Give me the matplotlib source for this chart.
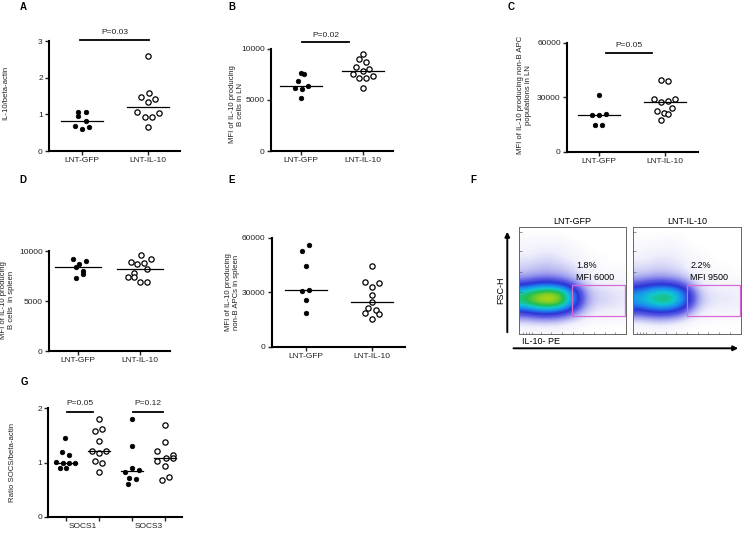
import numpy as np
import matplotlib.pyplot as plt
from matplotlib.colors import LinearSegmentedColormap
from matplotlib.patches import Rectangle, FancyArrowPatch

plt.rcParams['font.family'] = ['Liberation Sans', 'DejaVu Sans']

W, H = 746, 533

# ---------------- data ----------------
lnt_groups = ['LNT-GFP', 'LNT-IL-10']
socs_groups = ['SOCS1', 'SOCS3']

# A  IL-10/beta-actin
a_gfp = [1.07, 1.07, 0.95, 0.83, 0.68, 0.61, 0.66]
a_il10 = [2.59, 1.48, 1.59, 1.43, 1.34, 1.06, 0.94, 0.92, 1.04, 0.66]
# B  MFI IL-10+ B cells in LN
b_gfp = [7680, 7550, 6890, 6400, 6150, 6050, 5170]
b_il10 = [9510, 9050, 8700, 8210, 8040, 7870, 7520, 7190, 7190, 7350, 6210]
# C  MFI IL-10+ non-B APC in LN
c_gfp = [31000, 20360, 20360, 20750, 14860, 14860]
c_il10 = [39240, 38690, 29000, 27130, 27680, 29170, 22180, 21300, 20750, 23830, 17230]
# D  MFI IL-10+ B cells in spleen
d_gfp = [9260, 9000, 8730, 8400, 8050, 7720, 7320]
d_il10 = [9660, 9200, 8930, 8730, 8860, 8200, 7860, 7390, 6920, 6920, 7390]
# E  MFI IL-10+ non-B APCs in spleen
e_gfp = [56000, 52680, 44730, 30760, 31310, 25620, 18780]
e_il10 = [44730, 35890, 35000, 33130, 28550, 24520, 21200, 20430, 18610, 17890, 15300]
# G  SOCS/beta-actin
g_socs1_gfp = [1.46, 1.20, 1.13, 1.01, 0.99, 0.99, 1.00, 0.89, 0.90]
g_socs1_il10 = [1.80, 1.59, 1.61, 1.40, 1.21, 1.18, 1.21, 1.03, 1.00, 0.83]
g_socs3_gfp = [1.80, 1.31, 0.89, 0.86, 0.83, 0.71, 0.69, 0.60]
g_socs3_il10 = [1.69, 1.37, 1.22, 1.13, 1.03, 1.08, 1.08, 0.94, 0.68, 0.73]

# F  flow plots: rough event density (rows top->bottom, cols left->right)
f_gfp_density = [
    [.00, .00, .00, .00, .00, .00, .00, .00, .00, .00, .00, .00],
    [.02, .02, .02, .02, .02, .01, .00, .00, .00, .00, .00, .00],
    [.03, .03, .04, .04, .04, .03, .02, .01, .00, .00, .00, .00],
    [.05, .05, .06, .06, .05, .04, .03, .02, .01, .01, .00, .00],
    [.07, .08, .09, .09, .08, .07, .05, .03, .02, .01, .01, .01],
    [.11, .12, .13, .13, .12, .10, .07, .04, .03, .02, .02, .02],
    [.26, .30, .34, .34, .30, .24, .15, .08, .05, .04, .04, .04],
    [.68, .80, .88, .92, .84, .60, .34, .14, .08, .07, .06, .05],
    [.70, .82, .92, .94, .86, .62, .34, .14, .08, .07, .06, .05],
    [.28, .32, .36, .36, .32, .25, .15, .08, .05, .04, .04, .04],
    [.08, .09, .10, .10, .09, .07, .05, .03, .02, .02, .02, .01],
    [.02, .02, .02, .02, .02, .01, .01, .00, .00, .00, .00, .00],
]
f_il10_density = [
    [.00, .00, .00, .00, .00, .00, .00, .00, .00, .00, .00, .00],
    [.01, .01, .01, .02, .02, .01, .00, .00, .00, .00, .00, .00],
    [.02, .03, .03, .03, .03, .02, .01, .01, .00, .00, .00, .00],
    [.04, .04, .05, .05, .05, .04, .02, .01, .01, .00, .00, .00],
    [.06, .06, .07, .07, .06, .05, .03, .02, .01, .01, .01, .00],
    [.09, .10, .11, .11, .10, .08, .05, .03, .02, .02, .01, .01],
    [.22, .25, .28, .28, .25, .20, .11, .05, .04, .03, .03, .03],
    [.48, .56, .64, .68, .62, .46, .25, .09, .06, .05, .05, .04],
    [.50, .58, .66, .70, .62, .46, .25, .09, .06, .05, .05, .04],
    [.24, .27, .30, .30, .27, .21, .11, .05, .04, .03, .03, .03],
    [.06, .07, .08, .08, .07, .05, .03, .02, .01, .01, .01, .01],
    [.01, .01, .02, .02, .01, .01, .00, .00, .00, .00, .00, .00],
]

# horizontal spread of the dots (pixels from column centre)
a_dx = [[-4, 4, -4, 4, -7, 0, 7], [0, -7, 1, 7, 0, -11, -3, 4, 11, 0]]
b_dx = [[0, 3, -3, 7, -6, 1, 0], [0, -4, 3, -7, 6, 0, -10, -4, 3, 10, 0]]
c_dx = [[0, -7, 0, 7, -4, 3], [-4, 3, -11, -4, 3, 10, -8, -1, 3, 7, -4]]
d_dx = [[-5, 8, 1, -2, 5, 5, -2], [1, 11, -9, -3, 4, 7, -6, -6, 0, 7, -12]]
e_dx = [[3, -4, 0, -4, 3, 0, 0], [0, -7, 7, 0, 0, 0, -4, 4, -7, 7, 0]]
g_dx = [[-1, -4, 3, -10, -3, 3, 9, -6, 0], [0, -4, 3, 0, -7, 0, 7, -4, 3, 0],
        [0, 0, 0, 7, -7, -3, 4, -4], [0, 0, -8, 8, -8, 1, 8, 0, -3, 4]]

fig = plt.figure(figsize=(W / 100, H / 100), dpi=100)
fig.patch.set_facecolor('white')


def fx(x):
    return x / W


def fy(y):
    return 1 - y / H


def px_axes(x0, x1, ytop, ybot):
    return fig.add_axes([x0 / W, 1 - ybot / H, (x1 - x0) / W, (ybot - ytop) / H])


def column_scatter(ax, cols, offsets, cat_px, x0, x1, ymax, yticks, half=21):
    s = cat_px[1] - cat_px[0]
    ax.set_xlim((x0 - cat_px[0]) / s, (x1 - cat_px[0]) / s)
    ax.set_ylim(0, ymax)
    for i, (vals, dx) in enumerate(zip(cols, offsets)):
        x = i + np.asarray(dx) / s
        if i % 2 == 0:
            ax.plot(x, vals, 'o', ms=3.3, mfc='k', mec='k', mew=0.5, clip_on=False, zorder=3)
        else:
            ax.plot(x, vals, 'o', ms=3.8, mfc='white', mec='k', mew=0.9, clip_on=False, zorder=3)
        m = np.median(vals)
        ax.plot([i - half / s, i + half / s], [m, m], color='k', lw=0.9, zorder=4)
    ax.set_yticks(yticks)
    ax.set_xticks(range(len(cols)))
    for side in ['top', 'right']:
        ax.spines[side].set_visible(False)
    for side in ['left', 'bottom']:
        ax.spines[side].set_linewidth(1.5)
    ax.tick_params(direction='out', length=3, width=1, labelsize=6, pad=1.5, colors='#222')
    ax.patch.set_alpha(0)


def p_bar(ax, xa, xb, ybar, ytext, label):
    ax.plot([xa, xb], [ybar, ybar], color='k', lw=1.3, clip_on=False)
    ax.text((xa + xb) / 2, ytext, label, ha='center', va='center', fontsize=6, color='#222')


def ylab(x, y, text):
    fig.text(fx(x), fy(y), text, rotation=90, ha='center', va='center',
             fontsize=5.6, color='#222', multialignment='center')


def letter(x, y, text):
    fig.text(fx(x), fy(y), text, ha='center', va='center', fontsize=7, weight='bold')


# A
ax = px_axes(49, 180, 41, 151)
column_scatter(ax, [a_gfp, a_il10], a_dx, (82, 148), 49, 180, 3, [0, 1, 2, 3])
ax.set_xticklabels(lnt_groups)
p_bar(ax, -0.03, 1.02, 3.04, 3.22, 'P=0.03')
ylab(6, 93, 'IL-10/beta-actin')
letter(23, 7, 'A')

# B
ax = px_axes(271, 393, 49, 151)
column_scatter(ax, [b_gfp, b_il10], b_dx, (301, 363), 271, 393, 10000, [0, 5000, 10000])
ax.set_xticklabels(lnt_groups)
p_bar(ax, 0.02, 0.77, 10716, 11370, 'P=0.02')
ylab(236, 104, 'MFI of IL-10 producing\nB cells in LN')
letter(232, 7, 'B')

# C
ax = px_axes(567, 698, 42.7, 151.7)
column_scatter(ax, [c_gfp, c_il10], c_dx, (599, 665), 567, 698, 60000, [0, 30000, 60000])
ax.set_xticklabels(lnt_groups)
p_bar(ax, 0.10, 0.81, 54150, 58340, 'P=0.05')
ylab(524, 95, 'MFI of IL-10 producing non-B APC\npopulations in LN')
letter(511, 7, 'C')

# D
ax = px_axes(49, 170, 251.3, 351)
column_scatter(ax, [d_gfp, d_il10], d_dx, (78, 140), 49, 170, 10000, [0, 5000, 10000], half=23)
ax.set_xticklabels(lnt_groups)
ylab(8, 300, 'MFI of IL-10 producing\nB cells  in spleen')
letter(23, 180, 'D')

# E
ax = px_axes(272, 405, 238, 346.7)
column_scatter(ax, [e_gfp, e_il10], e_dx, (306, 372), 272, 405, 60000, [0, 30000, 60000])
ax.set_xticklabels(lnt_groups)
ylab(233, 292, 'MFI of IL-10 producing\nnon-B APCs in spleen')
letter(232, 180, 'E')

# G
ax = px_axes(48.3, 182, 408.3, 516.7)
column_scatter(ax, [g_socs1_gfp, g_socs1_il10, g_socs3_gfp, g_socs3_il10], g_dx,
               (66, 99), 48.3, 182, 2, [0, 1, 2], half=11)
ax.set_xticklabels([])
ax.set_xticks([0.5, 2.5], labels=socs_groups, minor=True)
ax.tick_params(axis='x', which='minor', length=0, pad=4.5, labelsize=6, colors='#222')
p_bar(ax, 0.02, 0.83, 1.94, 2.09, 'P=0.05')
p_bar(ax, 2.02, 2.95, 1.94, 2.09, 'P=0.12')
ylab(13, 462, 'Ratio SOCS/beta-actin')
letter(24, 382, 'G')

# F  flow cytometry dot plots
letter(473, 180, 'F')
flow_cmap = LinearSegmentedColormap.from_list('flow', [
    (0.0, 'white'), (0.04, '#f0f0fc'), (0.10, '#b8b8f2'), (0.20, '#6060e6'),
    (0.30, '#2c34d6'), (0.45, '#1a8ef0'), (0.58, '#10c8d0'), (0.72, '#20c050'),
    (0.86, '#90d020'), (1.0, '#e8e000')])

boxes = [(519.3, 626.0, f_gfp_density, 'LNT-GFP', '1.8%', 'MFI 6000', 0.49),
         (633.3, 740.7, f_il10_density, 'LNT-IL-10', '2.2%', 'MFI 9500', 0.50)]
for x0, x1, grid, title, pct, mfi, gx in boxes:
    fa = px_axes(x0, x1, 226.7, 334.3)
    fa.imshow(np.array(grid), extent=(0, 1, 0, 1), origin='upper', aspect='auto',
              interpolation='bicubic', cmap=flow_cmap, vmin=0, vmax=1)
    fa.set_xlim(0, 1)
    fa.set_ylim(0, 1)
    fa.add_patch(Rectangle((gx, 0.17), 0.995 - gx, 0.29, fill=False, ec='#d66ad6',
                           lw=0.9, transform=fa.transAxes))
    fa.set_yticks([0.2, 0.39, 0.58, 0.77, 0.95])
    fa.set_xticks([0.03, 0.06, 0.09, 0.12, 0.2, 0.3, 0.4, 0.5, 0.6, 0.7, 0.8, 0.9])
    fa.set_xticklabels([])
    fa.set_yticklabels([])
    fa.tick_params(direction='in', length=1.8, width=0.5, colors='#666')
    for sp in fa.spines.values():
        sp.set_linewidth(0.7)
        sp.set_color('#666')
    fig.text(fx((x0 + x1) / 2), fy(221.7), title, ha='center', va='center', fontsize=6.5)
    fig.text(fx(x0 + 57), fy(266), pct, ha='left', va='center', fontsize=6.5)
    fig.text(fx(x0 + 57), fy(277), mfi, ha='left', va='center', fontsize=6.5)

fig.add_artist(FancyArrowPatch((fx(507.3), fy(335)), (fx(507.3), fy(229)),
                               transform=fig.transFigure, arrowstyle='-|>',
                               mutation_scale=7, lw=1.4, color='k'))
fig.add_artist(FancyArrowPatch((fx(510.7), fy(348.3)), (fx(741), fy(348.3)),
                               transform=fig.transFigure, arrowstyle='-|>',
                               mutation_scale=7, lw=1.4, color='k'))
fig.text(fx(500.5), fy(290), 'FSC-H', rotation=90, ha='center', va='center', fontsize=6.5)
fig.text(fx(521.7), fy(341), 'IL-10- PE', ha='left', va='center', fontsize=6.5)

fig.savefig('out.png', dpi=100, facecolor='white')
